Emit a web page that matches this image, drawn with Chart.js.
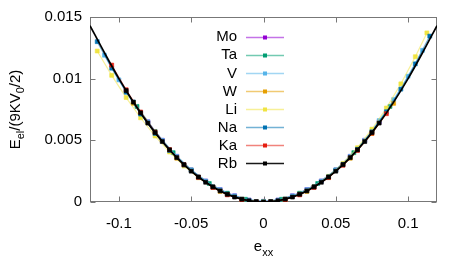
<!DOCTYPE html>
<html><head><meta charset="utf-8">
<script src="https://cdn.jsdelivr.net/npm/chart.js@4/dist/chart.umd.min.js"></script>
<style>html,body{margin:0;padding:0;background:#fff}canvas{display:block}</style>
</head><body>
<canvas id="c" width="463" height="278"></canvas>
<script>
const xTicks = [-0.1, -0.05, 0, 0.05, 0.1];
const yTicks = [0, 0.005, 0.01, 0.015];
const seriesNames = ['Mo', 'Ta', 'V', 'W', 'Li', 'Na', 'Ka', 'Rb'];
const seriesColors = ['#9400d3', '#009e73', '#56b4e9', '#e69f00', '#f0e442', '#0072b2', '#e51e10', '#000000'];

const moX = [-0.08,-0.07,-0.06,-0.05,-0.04,-0.03,-0.02,-0.01,0,0.01,0.02,0.03,0.04,0.05,0.06,0.07,0.08];
const moY = [0.0065,0.0050,0.0037,0.0026,0.0017,0.0010,0.0005,0.00015,0.00005,0.00015,0.0005,0.0010,0.0017,0.0026,0.0037,0.0050,0.0065];
const taX = [-0.0875,-0.075,-0.0625,-0.05,-0.0375,-0.025,-0.0125,0,0.0125,0.025,0.0375,0.05,0.0625,0.075,0.0875];
const taY = [0.00775,0.00572,0.00400,0.00259,0.00150,0.00071,0.00022,0.00004,0.00022,0.00071,0.00150,0.00259,0.00400,0.00572,0.00775];
const vX = [-0.11,-0.1,-0.09,-0.08,-0.07,-0.06,-0.05,-0.04,-0.03,-0.02,-0.01,0,0.01,0.02,0.03,0.04,0.05,0.06,0.07,0.08,0.09,0.1,0.11];
const vY = [0.0119,0.0099,0.0081,0.0065,0.0050,0.0037,0.0026,0.0017,0.0010,0.0005,0.00015,0.00005,0.00015,0.0005,0.0010,0.0017,0.0026,0.0037,0.0050,0.0066,0.0083,0.0102,0.0123];
const wX = [-0.09,-0.075,-0.06,-0.045,-0.03,-0.015,0,0.015,0.03,0.045,0.06,0.075,0.09];
const wY = [0.0080,0.00555,0.00355,0.00198,0.00086,0.00020,0,0.00020,0.00086,0.00198,0.00355,0.00555,0.0080];
const liX = [-0.115,-0.105,-0.095,-0.085,-0.075,-0.065,-0.055,-0.045,-0.035,-0.025,-0.015,-0.005,0.005,0.015,0.025,0.035,0.045,0.055,0.065,0.075,0.085,0.095,0.105,0.113];
const liY = [0.01224,0.01027,0.00847,0.00683,0.00535,0.00405,0.00292,0.00197,0.00120,0.00061,0.00022,0.000025,0.000025,0.00023,0.00064,0.00125,0.00208,0.00313,0.00440,0.00590,0.00762,0.00958,0.01178,0.01371];
const naX = [-0.115,-0.105,-0.095,-0.085,-0.075,-0.065,-0.055,-0.045,-0.035,-0.025,-0.015,-0.005,0.005,0.015,0.025,0.035,0.045,0.055,0.065,0.075,0.085,0.095,0.105,0.115];
const naY = [0.01300,0.01085,0.00890,0.00713,0.00556,0.00418,0.00300,0.00201,0.00122,0.00062,0.00022,0.000025,0.000025,0.00023,0.00063,0.00123,0.00204,0.00305,0.00427,0.00569,0.00732,0.00915,0.01120,0.01345];
const kaX = [-0.105,-0.095,-0.085,-0.075,-0.065,-0.055,-0.045,-0.035,-0.025,-0.015,-0.005,0.005,0.015,0.025,0.035,0.045,0.055,0.065,0.075,0.085];
const kaY = [0.0111,0.0091,0.00730,0.00568,0.00425,0.00302,0.00200,0.00118,0.00058,0.00018,0.0000,0.0000,0.00018,0.00058,0.00118,0.00198,0.00298,0.00418,0.00558,0.00716];
const rbX = [-0.095,-0.09,-0.085,-0.08,-0.075,-0.07,-0.065,-0.06,-0.055,-0.05,-0.045,-0.04,-0.035,-0.03,-0.025,-0.02,-0.015,-0.01,-0.005,0,0.005,0.01,0.015,0.02,0.025,0.03,0.035,0.04,0.045,0.05,0.055,0.06,0.065,0.07,0.075,0.08];
const rbY = [0.00903,0.0081,0.00723,0.0064,0.00563,0.0049,0.00423,0.0036,0.00303,0.0025,0.00203,0.0016,0.00123,0.0009,0.00063,0.0004,0.00023,0.0001,0.00003,0,0.00003,0.0001,0.00023,0.0004,0.00063,0.0009,0.00123,0.0016,0.00203,0.0025,0.00303,0.0036,0.00423,0.0049,0.00563,0.0064];
const fitX = [-0.12,-0.11,-0.1,-0.09,-0.08,-0.07,-0.06,-0.05,-0.04,-0.03,-0.02,-0.01,0,0.01,0.02,0.03,0.04,0.05,0.06,0.07,0.08,0.09,0.1,0.11,0.12];
const fitY = [0.0143,0.0121,0.0100,0.0081,0.0064,0.0049,0.0036,0.0025,0.0016,0.0009,0.0004,0.0001,0,0.0001,0.0004,0.0009,0.0016,0.0025,0.0036,0.0049,0.0064,0.0081,0.0100,0.0121,0.0143];

const seriesX = [moX, taX, vX, wX, liX, naX, kaX, rbX];
const seriesY = [moY, taY, vY, wY, liY, naY, kaY, rbY];

function pts(xs, ys) { return xs.map((x, i) => ({ x: x, y: ys[i] })); }
function rgba(hex, a) {
  const n = parseInt(hex.slice(1), 16);
  return 'rgba(' + ((n >> 16) & 255) + ',' + ((n >> 8) & 255) + ',' + (n & 255) + ',' + a + ')';
}
const FONT = '"Liberation Sans", Arial, Helvetica, sans-serif';
const lineAlpha = 0.55;

const datasets = seriesNames.map((name, i) => ({
  label: name,
  data: pts(seriesX[i], seriesY[i]),
  showLine: true,
  borderColor: rgba(seriesColors[i], i === 7 ? 0.9 : lineAlpha),
  borderWidth: 1.2,
  pointStyle: 'rect',
  pointRadius: 2.8,
  pointBackgroundColor: seriesColors[i],
  pointBorderColor: seriesColors[i],
  pointBorderWidth: 0.6,
  tension: 0,
  order: 8 - i
}));
datasets.push({
  label: 'fit',
  data: pts(fitX, fitY),
  showLine: true,
  borderColor: '#000',
  borderWidth: 1.7,
  pointRadius: 0,
  cubicInterpolationMode: 'monotone',
  order: 0
});

const decor = {
  id: 'decor',
  beforeDatasetsDraw(chart) {
    const { ctx, chartArea: a, scales: { x, y } } = chart;
    ctx.save();
    ctx.strokeStyle = '#777';
    ctx.lineWidth = 1;
    const L = Math.round(a.left) + 0.5, R = Math.round(a.right) - 0.5;
    const T = Math.round(a.top) + 0.5, B = Math.round(a.bottom) - 0.5;
    ctx.strokeRect(L, T, R - L, B - T);
    ctx.beginPath();
    const tl = 5;
    xTicks.forEach(v => {
      const px = Math.round(x.getPixelForValue(v)) + 0.5;
      ctx.moveTo(px, B); ctx.lineTo(px, B - tl);
      ctx.moveTo(px, T); ctx.lineTo(px, T + tl);
    });
    yTicks.forEach(v => {
      const py = Math.round(y.getPixelForValue(v)) + 0.5;
      ctx.moveTo(L, py); ctx.lineTo(L + tl, py);
      ctx.moveTo(R, py); ctx.lineTo(R - tl, py);
    });
    ctx.stroke();
    ctx.restore();
  },
  afterDraw(chart) {
    const { ctx, chartArea: a } = chart;
    ctx.save();
    // legend
    ctx.font = '15px ' + FONT;
    ctx.textAlign = 'right';
    ctx.textBaseline = 'middle';
    seriesNames.forEach((name, i) => {
      const yy = 36.7 + i * 18.1;
      ctx.fillStyle = '#000';
      ctx.fillText(name, 237, yy + 0.5);
      ctx.strokeStyle = rgba(seriesColors[i], i === 7 ? 0.9 : lineAlpha);
      ctx.lineWidth = 1.6;
      ctx.beginPath();
      ctx.moveTo(246, Math.round(yy) + 0.5); ctx.lineTo(284, Math.round(yy) + 0.5);
      ctx.stroke();
      ctx.fillStyle = seriesColors[i];
      ctx.fillRect(263, Math.round(yy) - 1.5, 4, 4);
    });
    // x title e_xx
    ctx.fillStyle = '#000';
    ctx.textAlign = 'left';
    ctx.textBaseline = 'alphabetic';
    const cx = (a.left + a.right) / 2;
    ctx.font = '15px ' + FONT;
    const w1 = ctx.measureText('e').width;
    ctx.font = '11px ' + FONT;
    const w2 = ctx.measureText('xx').width;
    const x0 = cx - (w1 + w2) / 2;
    ctx.font = '15px ' + FONT;
    ctx.fillText('e', x0, 251);
    ctx.font = '11px ' + FONT;
    ctx.fillText('xx', x0 + w1, 256);
    // y title E_el/(9KV_0/2)
    const parts = [['E', 15, 0], ['el', 11, 4], ['/(9KV', 15, 0], ['0', 11, 4], ['/2)', 15, 0]];
    let total = 0;
    parts.forEach(p => { ctx.font = p[1] + 'px ' + FONT; p.push(ctx.measureText(p[0]).width); total += p[3]; });
    ctx.translate(20, (a.top + a.bottom) / 2);
    ctx.rotate(-Math.PI / 2);
    let xx = -total / 2;
    parts.forEach(p => {
      ctx.font = p[1] + 'px ' + FONT;
      ctx.fillText(p[0], xx, p[2]);
      xx += p[3];
    });
    ctx.restore();
  }
};

new Chart(document.getElementById('c'), {
  type: 'scatter',
  data: { datasets: datasets },
  options: {
    responsive: false,
    animation: false,
    devicePixelRatio: 1,
    layout: { padding: { left: 0, right: 26, top: 16, bottom: 0 } },
    plugins: { legend: { display: false }, tooltip: { enabled: false } },
    scales: {
      x: {
        type: 'linear', min: -0.12, max: 0.12,
        grid: { display: false, drawTicks: false },
        border: { display: false },
        afterBuildTicks: s => { s.ticks = xTicks.map(v => ({ value: v })); },
        afterFit: s => { s.height = 76; },
        ticks: { padding: 13, color: '#000', font: { family: FONT, size: 15 }, maxRotation: 0, autoSkip: false,
          callback: v => String(v) }
      },
      y: {
        type: 'linear', min: 0, max: 0.015,
        grid: { display: false, drawTicks: false },
        border: { display: false },
        afterBuildTicks: s => { s.ticks = yTicks.map(v => ({ value: v })); },
        afterFit: s => { s.width = 90; },
        ticks: { padding: 8, color: '#000', font: { family: FONT, size: 15 }, autoSkip: false,
          callback: v => String(v) }
      }
    }
  },
  plugins: [decor]
});
</script>
</body></html>
